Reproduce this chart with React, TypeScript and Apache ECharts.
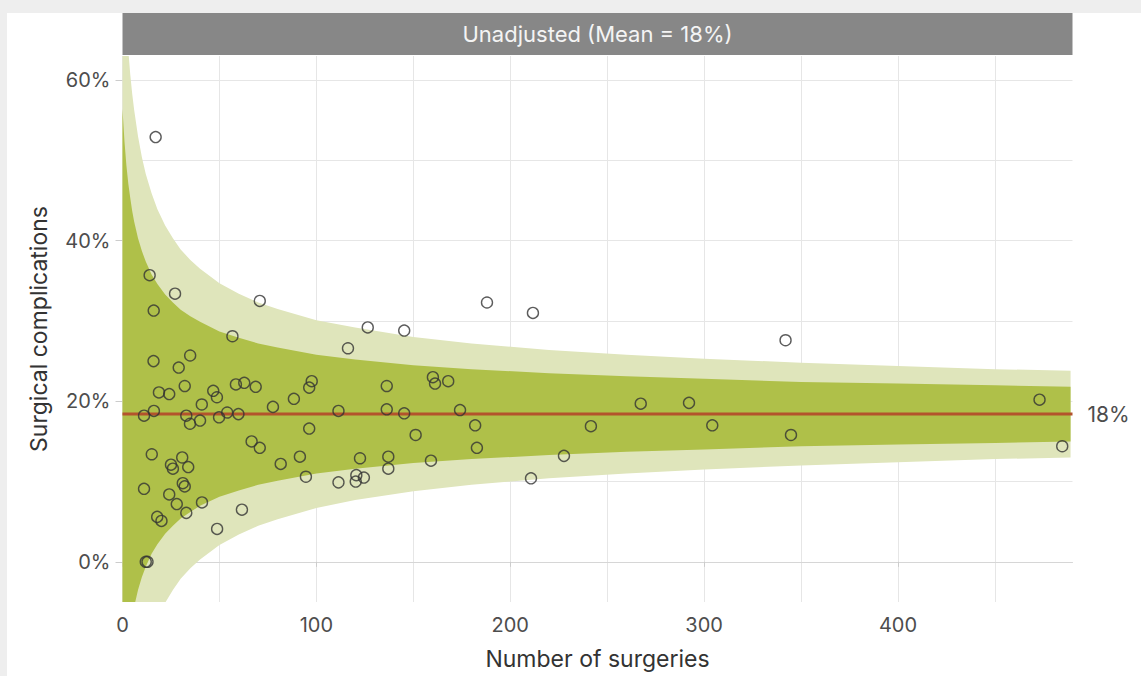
import React, { useEffect, useRef } from 'react';
import * as echarts from 'echarts';

// ---- Data ----
const surgeries = [
  17.1, 14.0, 27.1, 16.1, 70.8, 56.7, 116.3, 126.5, 145.3, 188.0, 211.7, 342.0,
  16.0, 34.9, 29.0, 32.1, 18.8, 24.1, 46.8, 48.7, 58.5, 62.8, 68.7, 40.9,
  77.6, 88.4, 97.6, 96.3, 111.4, 11.1, 16.2, 32.9, 34.8, 40.0, 49.8, 54.0,
  59.8, 96.3, 66.6, 70.8, 15.1, 30.8, 25.0, 26.0, 33.9, 81.6, 91.5, 94.6,
  111.4, 11.1, 31.1, 32.1, 24.1, 28.0, 32.9, 41.0, 17.9, 20.1, 61.6, 48.8,
  12.0, 12.9, 160.1, 161.2, 168.0, 136.3, 136.3, 145.3, 174.1, 181.9, 241.6, 151.2,
  182.8, 122.5, 137.1, 137.1, 159.1, 227.7, 120.6, 120.3, 124.5, 210.7, 267.3, 292.2,
  304.2, 344.8, 473.0, 484.7,
];
const complicationRates = [
  52.9, 35.7, 33.4, 31.3, 32.5, 28.1, 26.6, 29.2, 28.8, 32.3, 31.0, 27.6,
  25.0, 25.7, 24.2, 21.9, 21.1, 20.9, 21.3, 20.5, 22.1, 22.3, 21.8, 19.6,
  19.3, 20.3, 22.5, 21.7, 18.8, 18.2, 18.8, 18.2, 17.2, 17.6, 18.0, 18.6,
  18.4, 16.6, 15.0, 14.2, 13.4, 13.0, 12.1, 11.6, 11.8, 12.2, 13.1, 10.6,
  9.9, 9.1, 9.8, 9.4, 8.4, 7.2, 6.1, 7.4, 5.6, 5.1, 6.5, 4.1,
  0.0, 0.0, 23.0, 22.2, 22.5, 21.9, 19.0, 18.5, 18.9, 17.0, 16.9, 15.8,
  14.2, 12.9, 13.1, 11.6, 12.6, 13.2, 10.8, 10.0, 10.5, 10.4, 19.7, 19.8,
  17.0, 15.8, 20.2, 14.4,
];

const meanRate = 18.4;
const meanLabel = '18%';

// Control-limit band at these numbers of surgeries
const bandN = [0, 1, 2, 3, 4, 5, 6, 8, 10, 12, 15, 18, 22, 26, 30, 35, 40, 50, 60, 70, 80, 100, 120, 150, 180, 220, 260, 300, 350, 400, 450, 489];
const outerUpper = [78.3, 71.9, 67.3, 63.7, 60.7, 58.3, 56.3, 53.0, 50.4, 48.3, 45.9, 43.9, 41.9, 40.3, 38.9, 37.6, 36.5, 34.7, 33.4, 32.3, 31.5, 30.1, 29.2, 28.0, 27.2, 26.4, 25.8, 25.3, 24.8, 24.4, 24.0, 23.8];
const innerUpper = [56.4, 52.4, 49.4, 47.1, 45.3, 43.7, 42.4, 40.3, 38.7, 37.4, 35.8, 34.6, 33.3, 32.3, 31.4, 30.6, 29.9, 28.7, 27.9, 27.2, 26.7, 25.8, 25.2, 24.5, 24.0, 23.5, 23.1, 22.8, 22.4, 22.2, 22.0, 21.8];
const innerLower = [-19.6, -15.6, -12.6, -10.3, -8.5, -6.9, -5.6, -3.5, -1.9, -0.6, 1.0, 2.2, 3.5, 4.5, 5.4, 6.2, 7.0, 8.1, 8.9, 9.6, 10.1, 11.0, 11.6, 12.3, 12.8, 13.3, 13.7, 14.0, 14.4, 14.6, 14.8, 15.0];
const outerLower = [-41.5, -35.2, -30.5, -26.9, -23.9, -21.5, -19.5, -16.2, -13.6, -11.5, -9.1, -7.1, -5.1, -3.5, -2.1, -0.8, 0.3, 2.1, 3.4, 4.5, 5.3, 6.7, 7.7, 8.8, 9.6, 10.4, 11.0, 11.5, 12.0, 12.4, 12.8, 13.0];

// Axes
const xMin = 0;
const xMax = 490;
const xTickValues = [0, 100, 200, 300, 400];
const xGridValues = [0, 50, 100, 150, 200, 250, 300, 350, 400, 450];
const yMin = -5;
const yMax = 63;
const yTickValues = [0, 20, 40, 60];
const yGridValues = [0, 10, 20, 30, 40, 50, 60];

const panelTitle = 'Unadjusted (Mean = 18%)';
const xTitle = 'Number of surgeries';
const yTitle = 'Surgical complications';

const FONT = 'Inter, Roboto, "DejaVu Sans", sans-serif';
const LIGHT_GREEN = '#dfe5bb';
const DARK_GREEN = '#afc049';
const GRID_COLOR = '#e6e6e6';
const TEXT_COLOR = '#4d4d4d';

const GRID_LEFT = 115.5;
const GRID_TOP = 43;
const GRID_W = 950;
const GRID_H = 546;

export default function App() {
  const ref = useRef<HTMLDivElement>(null);

  useEffect(() => {
    if (!ref.current) return;
    const chart = echarts.init(ref.current, null, { renderer: 'svg' });

    const bandPolygon = (api: any, upper: number[], lower: number[]) => {
      const pts: number[][] = [];
      for (let i = 0; i < bandN.length; i++) pts.push(api.coord([bandN[i], upper[i]]));
      for (let i = bandN.length - 1; i >= 0; i--) pts.push(api.coord([bandN[i], lower[i]]));
      return pts;
    };

    const option: any = {
      animation: false,
      backgroundColor: 'transparent',
      textStyle: { fontFamily: FONT },
      grid: { left: GRID_LEFT, top: GRID_TOP, width: GRID_W, height: GRID_H, containLabel: false },
      graphic: [
        {
          type: 'rect',
          left: GRID_LEFT,
          top: 0,
          shape: { width: GRID_W, height: 42 },
          style: { fill: '#878787' },
          silent: true,
        },
        {
          type: 'text',
          x: GRID_LEFT + GRID_W / 2,
          y: 21,
          style: {
            text: panelTitle,
            fill: '#f4f4f4',
            fontSize: 22,
            fontFamily: FONT,
            textAlign: 'center',
            textVerticalAlign: 'middle',
          },
          silent: true,
        },
      ],
      xAxis: [
        {
          type: 'value',
          min: xMin,
          max: xMax,
          position: 'bottom',
          axisLine: { show: true, lineStyle: { color: '#d6d6d6', width: 1 } },
          axisTick: { show: false, customValues: xGridValues },
          axisLabel: { show: false },
          splitLine: { show: true, lineStyle: { color: GRID_COLOR, width: 1 } },
        },
        {
          type: 'value',
          min: xMin,
          max: xMax,
          position: 'bottom',
          axisLine: { show: false },
          axisTick: { show: true, customValues: xTickValues, length: 5, lineStyle: { color: '#cccccc' } },
          axisLabel: { show: true, customValues: xTickValues, fontSize: 20, color: TEXT_COLOR, margin: 13, fontFamily: FONT },
          splitLine: { show: false },
          name: xTitle,
          nameLocation: 'middle',
          nameGap: 45,
          nameTextStyle: { fontSize: 23, color: '#333333', fontFamily: FONT },
        },
      ],
      yAxis: [
        {
          type: 'value',
          min: yMin,
          max: yMax,
          position: 'left',
          axisLine: { show: false },
          axisTick: { show: false, customValues: yGridValues },
          axisLabel: { show: false },
          splitLine: { show: true, lineStyle: { color: GRID_COLOR, width: 1 } },
        },
        {
          type: 'value',
          min: yMin,
          max: yMax,
          position: 'left',
          axisLine: { show: false },
          axisTick: { show: true, customValues: yTickValues, length: 7, lineStyle: { color: '#cccccc' } },
          axisLabel: { show: true, customValues: yTickValues, formatter: '{value}%', fontSize: 20, color: TEXT_COLOR, margin: 12, fontFamily: FONT },
          splitLine: { show: false },
          name: yTitle,
          nameLocation: 'middle',
          nameGap: 72,
          nameRotate: 90,
          nameTextStyle: { fontSize: 23, color: '#333333', fontFamily: FONT },
        },
      ],
      series: [
        {
          type: 'custom',
          name: 'band',
          xAxisIndex: 0,
          yAxisIndex: 0,
          clip: true,
          silent: true,
          z: 2,
          data: [[bandN[0], meanRate]],
          renderItem: (params: any, api: any) => {
            if (params.dataIndex !== 0) return null;
            return {
              type: 'group',
              children: [
                { type: 'polygon', shape: { points: bandPolygon(api, outerUpper, outerLower) }, style: { fill: LIGHT_GREEN } },
                { type: 'polygon', shape: { points: bandPolygon(api, innerUpper, innerLower) }, style: { fill: DARK_GREEN } },
              ],
            };
          },
        },
        {
          type: 'line',
          name: 'mean',
          xAxisIndex: 0,
          yAxisIndex: 0,
          z: 3,
          symbol: 'none',
          silent: true,
          data: [[xMin, meanRate], [xMax, meanRate]],
          lineStyle: { color: '#b3532c', width: 3 },
          endLabel: {
            show: true,
            formatter: meanLabel,
            distance: 15,
            fontSize: 21,
            color: TEXT_COLOR,
            fontFamily: FONT,
          },
        },
        {
          type: 'scatter',
          name: 'hospitals',
          xAxisIndex: 0,
          yAxisIndex: 0,
          z: 4,
          symbol: 'circle',
          symbolSize: 11,
          silent: true,
          itemStyle: { color: 'rgba(0,0,0,0)', borderColor: '#333333', borderWidth: 1.4 },
          data: surgeries.map((n, i) => [n, complicationRates[i]]),
        },
      ],
    };

    chart.setOption(option);
    return () => chart.dispose();
  }, []);

  return (
    <div style={{ position: 'fixed', left: 0, top: 0, width: 1141, height: 676, background: '#eeeeee' }}>
      <div
        ref={ref}
        style={{ position: 'absolute', left: 7, top: 13, width: 1134, height: 663, background: '#ffffff' }}
      />
    </div>
  );
}
